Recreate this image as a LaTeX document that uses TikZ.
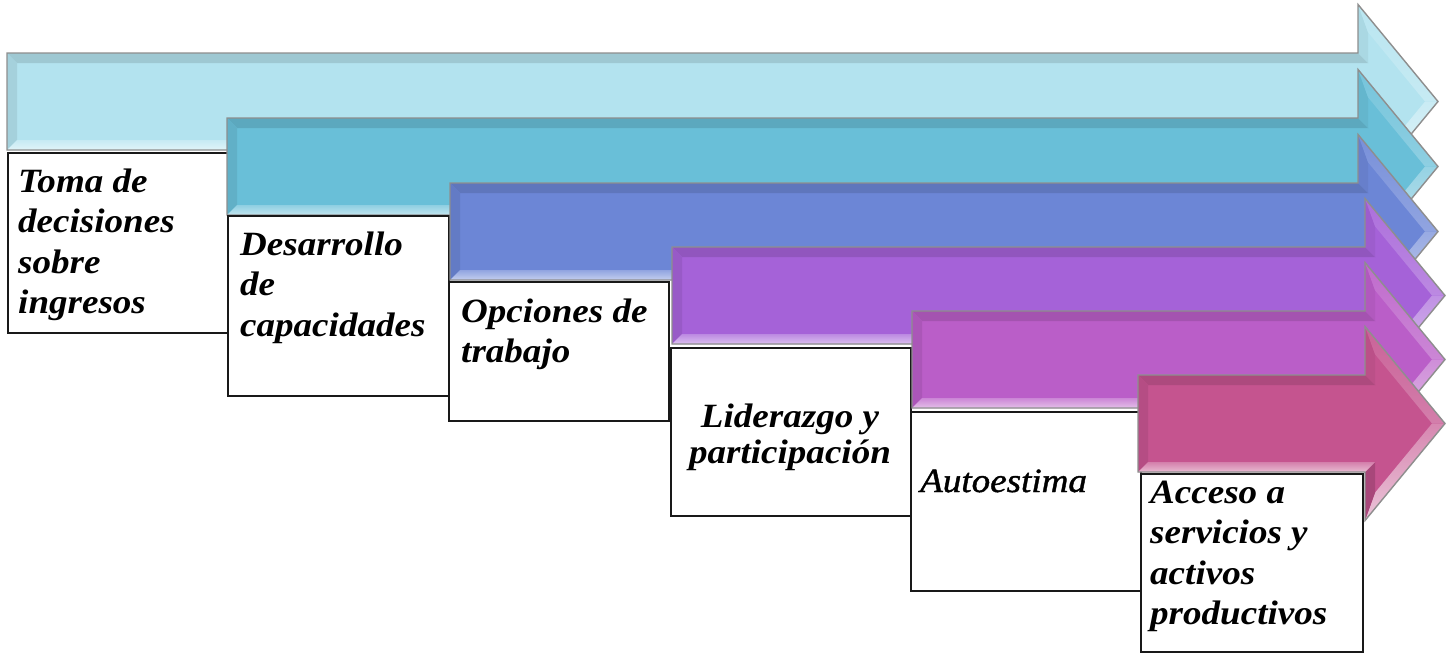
\documentclass[tikz,border=0pt]{standalone}
\usepackage{fontspec}
\newfontfamily\gfont[FakeStretch=1.09]{Liberation Serif}
\newfontfamily\gfontmid[FakeStretch=1.09,FakeBold=1.2]{Liberation Serif}
\usetikzlibrary{calc}
\definecolor{cA}{HTML}{B3E3EF}
\definecolor{cB}{HTML}{69BFD8}
\definecolor{cC}{HTML}{6C86D6}
\definecolor{cD}{HTML}{A562D8}
\definecolor{cE}{HTML}{BA5EC8}
\definecolor{cF}{HTML}{C5548F}
\definecolor{edgegray}{HTML}{8E8E8E}
\tikzset{
  boxst/.style={draw=black!90, line width=1.9pt, fill=white, inner sep=0pt, anchor=north west},
  lbl/.style={inner sep=0pt, text=black, font=\gfont\bfseries\itshape\fontsize{34}{40.5}\selectfont},
  lblreg/.style={inner sep=0pt, text=black, font=\gfontmid\itshape\fontsize{34}{40.5}\selectfont},
  arrowedge/.style={draw=edgegray, line width=1.4pt, line join=miter}
}
% #1 = left x of shaft, #2 = x of head base, #3 = y of shaft centre, #4 = colour
\newcommand{\bevarrow}[4]{%
\begin{scope}[shift={(#2,#3)}]
  \coordinate (pA) at ({#1-#2},-48.5);
  \coordinate (pB) at (0,-48.5);
  \coordinate (pC) at (0,-97);
  \coordinate (pD) at (80,0);
  \coordinate (pE) at (0,97);
  \coordinate (pF) at (0,48.5);
  \coordinate (pG) at ({#1-#2},48.5);
  \coordinate (qA) at ({#1-#2+10},-38.5);
  \coordinate (qB) at (10,-38.5);
  \coordinate (qC) at (10,-69.2);
  \coordinate (qD) at (67,0);
  \coordinate (qE) at (10,69.2);
  \coordinate (qF) at (10,38.5);
  \coordinate (qG) at ({#1-#2+10},38.5);
  \fill[#4] (pA)--(pB)--(pC)--(pD)--(pE)--(pF)--(pG)--cycle;
  \fill[#4!88!black] (pA)--(pB)--(qB)--(qA)--cycle;
  \fill[#4!92!black] (pG)--(pA)--(qA)--(qG)--cycle;
  \fill[#4!95!black] (pB)--(pC)--(qC)--(qB)--cycle;
  \shade[top color=#4!92!white, bottom color=#4!75!white] (pC)--(pD)--(qD)--(qC)--cycle;
  \shade[top color=#4!70!white, bottom color=#4!35!white] (pD)--(pE)--(qE)--(qD)--cycle;
  \fill[#4!85!black] (pE)--(pF)--(qF)--(qE)--cycle;
  \shade[top color=#4!75!white, bottom color=#4!40!white] (pF)--(pG)--(qG)--(qF)--cycle;
  \draw[arrowedge] (pA)--(pB)--(pC)--(pD)--(pE)--(pF)--(pG)--cycle;
\end{scope}}
\begin{document}
\begin{tikzpicture}[x=1pt,y=-1pt]
\useasboundingbox (0,0) rectangle (1450,653);
\fill[white] (0,0) rectangle (1450,653);
% arrows and boxes
\bevarrow{7}{1358}{101.5}{cA}
\node[boxst, minimum width=220pt, minimum height=180pt] (b1) at (7,152) {};
\bevarrow{227}{1358}{166.5}{cB}
\node[boxst, minimum width=221pt, minimum height=180pt] (b2) at (227,215) {};
\bevarrow{450}{1358}{231.5}{cC}
\node[boxst, minimum width=220pt, minimum height=139pt] (b3) at (448,281) {};
\bevarrow{672}{1365}{295.5}{cD}
\node[boxst, minimum width=240pt, minimum height=168pt] (b4) at (670,347) {};
\bevarrow{912}{1365}{359.5}{cE}
\node[boxst, minimum width=230pt, minimum height=179pt] (b5) at (910,411) {};
\bevarrow{1138}{1365}{423.5}{cF}
\node[boxst, minimum width=222pt, minimum height=178pt] (b6) at (1140,473) {};
% labels
\node[lbl, anchor=base west] (t1) at (18,192) {\parbox[t]{205pt}{\raggedright Toma de\\decisiones\\sobre\\ingresos}};
\node[lbl, anchor=base west] (t2) at (240,255) {\parbox[t]{205pt}{\raggedright Desarrollo\\de\\capacidades}};
\node[lbl, anchor=base west] (t3) at (461,322) {\parbox[t]{205pt}{\raggedright Opciones de\\trabajo}};
\node[lbl, anchor=base] (t4) at (790,427) {\parbox[t]{236pt}{\centering\fontsize{34}{36.5}\selectfont Liderazgo y\\participación}};
\node[lblreg, anchor=base west] (t5) at (920,492) {Autoestima};
\node[lbl, anchor=base west] (t6) at (1150,503) {\parbox[t]{205pt}{\raggedright Acceso a\\servicios y\\activos\\productivos}};
\end{tikzpicture}
\end{document}
